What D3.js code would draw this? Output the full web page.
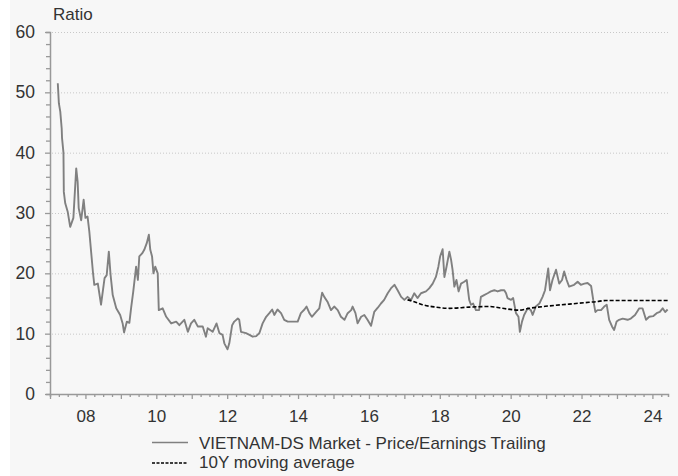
<!DOCTYPE html>
<html>
<head>
<meta charset="utf-8">
<script src="https://cdn.jsdelivr.net/npm/d3@7"></script>
<style>
  body { margin: 0; background: #fff; }
  svg { display: block; font-family: "Liberation Sans", Arial, sans-serif; }
</style>
</head>
<body>
<div id="chart"></div>
<script>
// --- data (decimal years, ratio) ---
const peYears = [2007.22,2007.25,2007.29,2007.33,2007.34,2007.38,2007.39,2007.43,2007.50,2007.57,2007.66,2007.74,2007.78,2007.81,2007.88,2007.95,
  2008.00,2008.06,2008.11,2008.16,2008.21,2008.25,2008.35,2008.44,2008.54,2008.60,2008.66,2008.71,2008.77,2008.87,2008.98,
  2009.05,2009.09,2009.17,2009.24,2009.29,2009.35,2009.43,2009.48,2009.52,2009.60,2009.66,2009.73,2009.79,2009.83,2009.88,2009.92,2009.97,
  2010.04,2010.07,2010.18,2010.28,2010.42,2010.56,2010.65,2010.79,2010.89,2010.98,
  2011.07,2011.17,2011.31,2011.40,2011.45,2011.59,2011.70,2011.78,2011.87,2011.92,
  2012.01,2012.06,2012.14,2012.20,2012.30,2012.34,2012.39,2012.53,2012.63,2012.72,2012.82,2012.91,
  2013.00,2013.10,2013.19,2013.27,2013.33,2013.42,2013.52,2013.61,2013.71,2013.85,2013.99,
  2014.08,2014.18,2014.24,2014.32,2014.39,2014.51,2014.60,2014.68,2014.74,2014.83,2014.93,
  2015.02,2015.12,2015.21,2015.31,2015.40,2015.50,2015.54,2015.62,2015.68,2015.78,2015.87,2015.96,
  2016.06,2016.15,2016.25,2016.34,2016.43,2016.53,2016.62,2016.72,2016.81,2016.91,
  2017.00,2017.09,2017.19,2017.28,2017.37,2017.47,2017.61,2017.70,2017.80,2017.89,2017.96,
  2018.01,2018.08,2018.13,2018.19,2018.27,2018.32,2018.36,2018.41,2018.47,2018.53,2018.60,2018.69,2018.76,2018.83,2018.88,2018.94,
  2019.02,2019.11,2019.16,2019.25,2019.35,2019.44,2019.54,2019.63,2019.73,2019.82,2019.87,2019.91,
  2020.01,2020.07,2020.15,2020.22,2020.26,2020.32,2020.38,2020.48,2020.57,2020.62,2020.71,2020.81,2020.90,2020.97,
  2021.02,2021.06,2021.11,2021.18,2021.28,2021.37,2021.45,2021.51,2021.58,2021.65,2021.79,2021.89,2021.98,
  2022.08,2022.17,2022.27,2022.33,2022.39,2022.45,2022.55,2022.64,2022.71,2022.78,2022.86,2022.92,2022.99,
  2023.06,2023.16,2023.30,2023.39,2023.51,2023.63,2023.72,2023.82,2023.91,
  2024.02,2024.12,2024.21,2024.29,2024.36,2024.43];
const peValues = [51.5,48.2,46.8,44.0,42.4,40.0,33.5,31.6,30.2,27.7,29.2,37.4,35.2,30.8,28.8,32.2,
  29.2,29.4,26.9,23.6,20.3,18.1,18.3,14.8,19.2,19.7,23.6,19.7,16.4,14.2,13.1,
  11.7,10.2,12.0,11.8,14.3,17.0,21.1,18.9,22.8,23.3,23.9,25.0,26.4,23.9,22.8,20.0,21.1,
  20.0,13.9,14.2,12.8,11.7,12.0,11.4,12.3,10.3,11.7,
  12.3,11.2,11.2,9.5,10.9,10.3,11.7,10.1,9.8,8.4,
  7.4,8.4,11.4,12.0,12.5,12.3,10.3,10.1,9.8,9.5,9.6,10.1,
  11.7,12.8,13.4,14.0,13.1,14.0,13.4,12.3,12.0,12.0,12.0,
  13.4,14.0,14.5,13.4,12.8,13.6,14.2,16.8,16.1,15.3,13.9,
  14.5,13.9,12.8,12.3,13.4,13.9,14.5,13.4,11.7,12.8,13.1,12.3,
  11.3,13.6,14.3,15.0,15.6,16.7,17.5,18.1,17.2,16.1,
  15.6,16.1,15.6,16.7,15.9,16.7,17.0,17.5,18.3,19.4,21.1,
  22.8,24.0,19.4,21.1,23.6,22.2,20.6,17.8,18.9,17.0,18.3,18.6,18.9,15.6,14.8,15.0,
  13.9,13.9,16.1,16.4,16.7,17.0,17.2,17.0,17.2,17.2,16.7,15.9,
  15.6,15.9,13.4,12.8,10.3,12.0,13.1,14.2,13.9,13.1,14.5,15.0,16.1,17.2,
  19.2,20.8,17.2,18.9,20.6,18.3,18.9,20.3,18.9,17.8,18.1,18.6,18.1,
  18.3,18.4,17.9,15.6,13.6,13.9,13.9,14.5,14.8,12.3,11.2,10.6,12.0,
  12.3,12.5,12.3,12.5,13.1,14.2,14.2,12.3,12.8,
  12.9,13.4,13.6,14.2,13.6,14.0];

const maYears = [2017.09,2017.28,2017.51,2017.89,2018.27,2018.83,2019.40,2019.77,2020.24,2020.52,2021.09,2021.65,2022.21,2022.41,2022.69,2023.63,2024.43];
const maValues = [15.6,15.3,14.8,14.4,14.2,14.4,14.5,14.2,13.9,14.2,14.6,14.9,15.2,15.3,15.5,15.5,15.5];

const yTicks = [0, 10, 20, 30, 40, 50, 60];
const xLabelYears = [2008, 2010, 2012, 2014, 2016, 2018, 2020, 2022, 2024];
const legendLabels = ["VIETNAM-DS Market - Price/Earnings Trailing", "10Y moving average"];

// --- layout ---
const W = 678, H = 476;
const plot = { left: 50, right: 668, top: 32, bottom: 394 };
const FONT = '"Liberation Sans", Arial, sans-serif';

const svg = d3.select('#chart').append('svg')
    .attr('width', W).attr('height', H);

svg.append('rect')
    .attr('x', 10).attr('y', 0)
    .attr('width', W - 10).attr('height', H)
    .attr('fill', '#f7f7f7');

const x = d3.scaleLinear().domain([2007.0, 2024.44]).range([plot.left, plot.right]);
const y = d3.scaleLinear().domain([0, 60]).range([plot.bottom, plot.top]);

// grid lines
svg.append('g')
    .selectAll('line')
    .data(yTicks.filter(d => d > 0))
    .join('line')
    .attr('x1', plot.left + 2).attr('x2', plot.right)
    .attr('y1', d => y(d) + 0.5).attr('y2', d => y(d) + 0.5)
    .attr('stroke', '#c8c8c8')
    .attr('stroke-width', 1)
    .attr('stroke-dasharray', '1,2');

// y axis
const yAxis = d3.axisLeft(y)
    .tickValues(d3.range(0, 61, 2))
    .tickSize(4)
    .tickFormat(d => yTicks.includes(d) ? d : '');
const yG = svg.append('g')
    .attr('transform', `translate(${plot.left},0)`)
    .call(yAxis);
yG.select('.domain').attr('stroke', '#999').attr('stroke-width', 1.5);
yG.selectAll('.tick line').attr('stroke', '#999').attr('stroke-width', 1.3)
    .attr('x2', d => yTicks.includes(d) ? -5 : -4);
yG.selectAll('.tick text')
    .attr('x', -15)
    .attr('fill', '#333')
    .style('font-size', '17.5px')
    .style('font-family', FONT);

// x axis
const quarterTicks = d3.range(0, 70).map(i => 2007 + i * 0.25).filter(d => d <= 2024.44);
const xAxis = d3.axisBottom(x)
    .tickValues(quarterTicks)
    .tickSize(3)
    .tickFormat(d => xLabelYears.includes(d) ? String(d).slice(2) : '');
const xG = svg.append('g')
    .attr('transform', `translate(0,${plot.bottom})`)
    .call(xAxis);
xG.select('.domain').attr('stroke', '#999').attr('stroke-width', 1.5);
xG.selectAll('.tick line').attr('stroke', '#999').attr('stroke-width', 1.3)
    .attr('y2', d => Number.isInteger(d) ? 5 : 3);
xG.selectAll('.tick text')
    .attr('y', 15.5)
    .attr('fill', '#333')
    .style('font-size', '17px')
    .style('font-family', FONT);

// axis title
svg.append('text')
    .attr('x', 53).attr('y', 20)
    .attr('fill', '#333')
    .style('font-size', '17px')
    .text('Ratio');

// lines
const pe = peYears.map((d, i) => [d, peValues[i]]);
const ma = maYears.map((d, i) => [d, maValues[i]]);
const line = d3.line().x(d => x(d[0])).y(d => y(d[1])).curve(d3.curveMonotoneX);

svg.append('path')
    .datum(pe)
    .attr('d', d3.line().x(d => x(d[0])).y(d => y(d[1])))
    .attr('fill', 'none')
    .attr('stroke', '#808080')
    .attr('stroke-width', 1.9)
    .attr('stroke-linejoin', 'round');

svg.append('path')
    .datum(ma)
    .attr('d', line)
    .attr('fill', 'none')
    .attr('stroke', '#000')
    .attr('stroke-width', 1.6)
    .attr('stroke-dasharray', '4,2');

// legend
const lg = svg.append('g');
legendLabels.forEach((label, i) => {
    const ly = 442.5 + i * 20.5;
    lg.append('line')
        .attr('x1', 152).attr('x2', 188)
        .attr('y1', ly).attr('y2', ly)
        .attr('stroke', i === 0 ? '#808080' : '#000')
        .attr('stroke-width', 1.3)
        .attr('stroke-dasharray', i === 0 ? null : '3,1.5');
    lg.append('text')
        .attr('x', 199).attr('y', i === 0 ? 449 : 467.5)
        .attr('fill', '#333')
        .style('font-size', '17px')
        .text(label);
});
</script>
</body>
</html>
